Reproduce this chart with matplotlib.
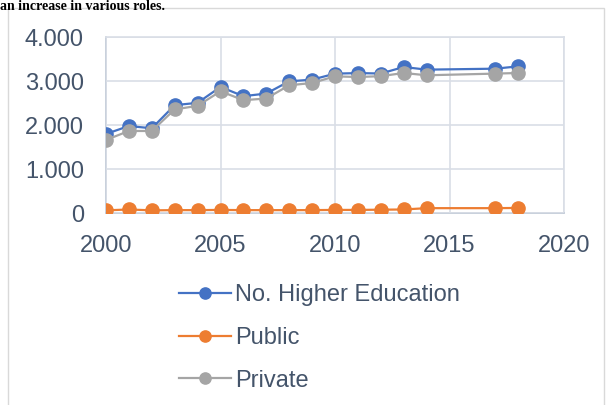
import matplotlib.pyplot as plt
from matplotlib.patches import Rectangle
from matplotlib.ticker import FuncFormatter

years = [2000, 2001, 2002, 2003, 2004, 2005, 2006, 2007, 2008, 2009,
         2010, 2011, 2012, 2013, 2014, 2017, 2018]
total = [1797, 1977, 1925, 2451, 2504, 2865, 2655, 2715, 2993, 3031,
         3167, 3180, 3170, 3318, 3258, 3280, 3333]
public = [60, 80, 60, 65, 65, 70, 65, 65, 65, 65,
          70, 70, 75, 80, 110, 110, 115]
private = [1661, 1864, 1864, 2354, 2436, 2767, 2564, 2602, 2903, 2955,
           3106, 3090, 3110, 3182, 3130, 3168, 3182]

labels = ["No. Higher Education", "Public", "Private"]
colors = ["#4472C4", "#ED7D31", "#A5A5A5"]
txt = "#44546A"
grid = "#D9DEE6"

plt.rcParams['font.family'] = ['Liberation Sans', 'DejaVu Sans']

fig = plt.figure(figsize=(6.14, 4.05), dpi=100)
# chart frame
fig.patches.append(Rectangle((8/614, -0.1), 596/614, 1.1 - 8/405,
                             transform=fig.transFigure, fill=False,
                             edgecolor="#D9D9D9", linewidth=1))
# sentence above the chart (cut off in the source)
fig.text(0.0, 0.999, "an increase in various roles.", fontsize=10,
         family="Liberation Serif", weight="bold", va="top", ha="left",
         color="black")

ax = fig.add_axes([106/614, 1 - 213/405, 458/614, 176/405])
for s, c, lab in zip([total, public, private], colors, labels):
    ax.plot(years, s, color=c, lw=1.6, marker='o', ms=9.5, label=lab,
            markeredgecolor=c)

ax.set_xlim(2000, 2020)
ax.set_ylim(0, 4000)
ax.set_xticks([2000, 2005, 2010, 2015, 2020])
ax.set_yticks([0, 1000, 2000, 3000, 4000])
ax.yaxis.set_major_formatter(FuncFormatter(lambda v, p: f"{int(v):,}".replace(",", ".")))
ax.tick_params(length=0, labelsize=17, labelcolor=txt, pad=16)
ax.grid(True, color=grid, lw=1.2)
for sp in ax.spines.values():
    sp.set_color(grid)
    sp.set_linewidth(1.2)
    sp.set_zorder(0)
ax.spines['left'].set_color("#BFC8D6")
ax.spines['bottom'].set_color("#BFC8D6")
ax.set_axisbelow(True)

leg = fig.legend(loc="upper left", bbox_to_anchor=(170/614, 1 - 275/405),
                 frameon=False, fontsize=17, handlelength=2.2,
                 handletextpad=0.15, labelspacing=0.87, borderaxespad=0,
                 markerscale=0.85)
for t in leg.get_texts():
    t.set_color(txt)

fig.savefig("out.png", dpi=100)
